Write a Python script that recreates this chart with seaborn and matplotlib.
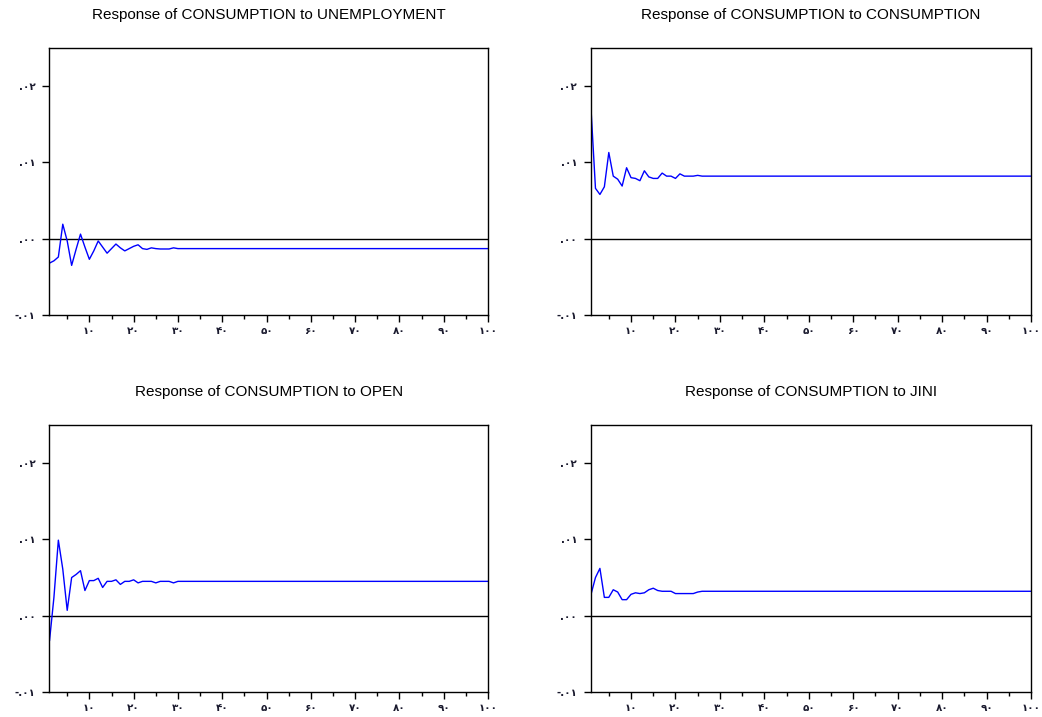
import pandas as pd
import matplotlib
matplotlib.use("Agg")
import matplotlib.pyplot as plt
import seaborn as sns

# periodos 1..100 da funcao impulso-resposta
periods = list(range(1, 101))

resp_unemployment = [-0.0032, -0.0029, -0.0024, 0.0019, -0.0003, -0.0035, -0.0014, 0.0006,
                     -0.0011, -0.0027, -0.0016, -0.0003, -0.0011, -0.0019, -0.0013, -0.0007,
                     -0.0012, -0.0016, -0.0013, -0.0010, -0.0008, -0.0013, -0.0014, -0.0012,
                     -0.0013, -0.00135, -0.00135, -0.00135, -0.0012] + [-0.0013] * 71

resp_consumption = [0.0170, 0.0066, 0.0058, 0.0068, 0.0113, 0.0082, 0.0078, 0.0069,
                    0.0093, 0.0080, 0.0079, 0.0076, 0.0089, 0.0081, 0.0079, 0.0079,
                    0.0086, 0.0082, 0.0082, 0.0079, 0.0085, 0.0082, 0.0082, 0.0082,
                    0.0083] + [0.0082] * 75

resp_open = [-0.0033, 0.0024, 0.0099, 0.0061, 0.0007, 0.0050, 0.0054, 0.0059,
             0.0033, 0.0046, 0.0046, 0.0049, 0.0037, 0.0045, 0.0045, 0.0047,
             0.0041, 0.0045, 0.0045, 0.0047, 0.0043, 0.0045, 0.0045, 0.0045,
             0.0043, 0.0045, 0.0045, 0.0045, 0.0043] + [0.0045] * 71

resp_jini = [0.0028, 0.0050, 0.0062, 0.0024, 0.0024, 0.0034, 0.0031, 0.0021,
             0.0021, 0.0028, 0.0030, 0.0029, 0.0030, 0.0034, 0.0036, 0.0033,
             0.0032, 0.0032, 0.0032, 0.0029, 0.0029, 0.0029, 0.0029, 0.0029,
             0.0031] + [0.0032] * 75

titles = ['Response of CONSUMPTION to UNEMPLOYMENT',
          'Response of CONSUMPTION to CONSUMPTION',
          'Response of CONSUMPTION to OPEN',
          'Response of CONSUMPTION to JINI']

x_ticks = [10, 20, 30, 40, 50, 60, 70, 80, 90, 100]
x_minor = [5, 15, 25, 35, 45, 55, 65, 75, 85, 95]
x_labels = ['۱۰', '۲۰', '۳۰', '۴۰', '۵۰', '۶۰', '۷۰', '۸۰', '۹۰', '۱۰۰']
y_ticks = [-0.01, 0.0, 0.01, 0.02]
y_labels = ['-.۰۱', '.۰۰', '.۰۱', '.۰۲']

df = pd.DataFrame({
    'periodo': periods * 4,
    'resposta': resp_unemployment + resp_consumption + resp_open + resp_jini,
    'painel': sum([[t] * 100 for t in titles], []),
})

sns.set_theme(style="white")
plt.rcParams['font.family'] = ['Liberation Sans', 'DejaVu Sans']

fig = plt.figure(figsize=(10.42, 7.17), dpi=100)

# posicoes dos quatro paineis (fração da figura)
posicoes = [[0.0475, 0.5607, 0.4208, 0.3724],
            [0.5672, 0.5607, 0.4223, 0.3724],
            [0.0475, 0.0349, 0.4208, 0.3724],
            [0.5672, 0.0349, 0.4223, 0.3724]]

for titulo, pos in zip(titles, posicoes):
    ax = fig.add_axes(pos)
    dados = df[df['painel'] == titulo]
    sns.lineplot(data=dados, x='periodo', y='resposta', ax=ax,
                 color='#0000ff', linewidth=1.0)
    ax.axhline(0, color='black', linewidth=1.0, zorder=1)

    ax.set_xlim(1, 100)
    ax.set_ylim(-0.01, 0.025)
    ax.set_xticks(x_ticks)
    ax.set_xticks(x_minor, minor=True)
    ax.set_xticklabels(x_labels, family=['DejaVu Sans'], fontweight='bold')
    ax.set_yticks(y_ticks)
    ax.set_yticklabels(y_labels, family=['DejaVu Sans'], fontweight='bold')
    ax.set_xlabel('')
    ax.set_ylabel('')

    ax.tick_params(axis='both', which='major', direction='out', length=5,
                   width=1, color='black', labelsize=7.5, labelcolor='#1a1a2e')
    ax.tick_params(axis='x', which='major', pad=3)
    ax.tick_params(axis='y', which='major', pad=5)
    ax.tick_params(axis='x', which='minor', direction='out', length=3,
                   width=1, color='black', bottom=True)
    ax.tick_params(axis='both', bottom=True, left=True)

    for s in ax.spines.values():
        s.set_color('black')
        s.set_linewidth(1.0)

    ax.set_title(titulo, fontsize=11, pad=21, color='black')

fig.savefig('out.png', dpi=100)
